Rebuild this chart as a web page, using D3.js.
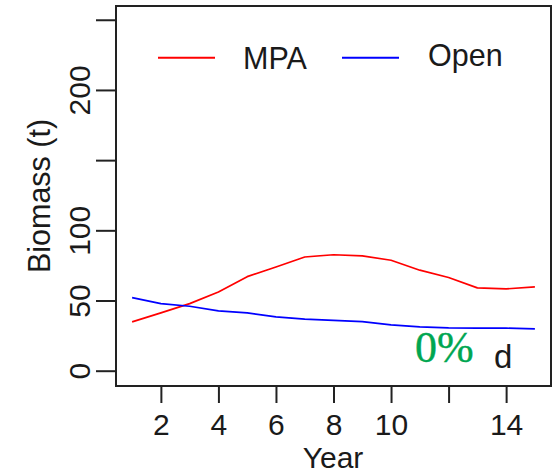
<!DOCTYPE html>
<html>
<head>
<meta charset="utf-8">
<script src="https://cdn.jsdelivr.net/npm/d3@7/dist/d3.min.js"></script>
<style>
  html, body { margin: 0; padding: 0; background: #fff; }
  svg { display: block; }
  text { font-family: "Liberation Sans", Arial, sans-serif; fill: #1a1a1a; }
</style>
</head>
<body>
<svg id="chart" width="557" height="474"></svg>
<script>
// Biomass trajectories, years 1..15
const years = d3.range(1, 16);
const mpaBiomass  = [34.8, 41.2, 47.8, 56.1, 67.0, 73.9, 81.0, 82.6, 81.8, 78.7, 71.6, 66.4, 59.0, 58.3, 59.7];
const openBiomass = [52.1, 47.8, 45.9, 42.6, 41.2, 38.3, 36.7, 35.8, 35.0, 32.6, 31.2, 30.5, 30.3, 30.3, 29.8];
const xTicks = [2, 4, 6, 8, 10, 12, 14];
const xTickLabels = ["2", "4", "6", "8", "10", "", "14"];
const yTicks = [0, 50, 100, 150, 200, 250];
const yTickLabels = ["0", "50", "100", "", "200", ""];
const seriesNames = ["MPA", "Open"];
const seriesColors = ["#ff0000", "#0000ff"];

const svg = d3.select("#chart");
const box = { left: 116, right: 551, top: 6, bottom: 386 };

const x = d3.scaleLinear().domain([0.44, 15.56]).range([box.left, box.right]);
const y = d3.scaleLinear().domain([-10.9, 259.8]).range([box.bottom, box.top]);

// frame
svg.append("rect")
  .attr("x", box.left).attr("y", box.top)
  .attr("width", box.right - box.left).attr("height", box.bottom - box.top)
  .attr("fill", "none").attr("stroke", "#222").attr("stroke-width", 2);

// x axis
const xAxis = svg.append("g")
  .attr("transform", `translate(0,${box.bottom})`)
  .call(d3.axisBottom(x).tickValues(xTicks).tickSize(17)
        .tickFormat((d, i) => xTickLabels[i]));
xAxis.select(".domain").remove();
xAxis.selectAll(".tick line").attr("stroke", "#222").attr("stroke-width", 2);
xAxis.selectAll(".tick text")
  .attr("y", 0).attr("dy", null)
  .attr("transform", "translate(0,49)")
  .style("font-family", "Liberation Sans, Arial, sans-serif")
  .style("font-size", "30px").attr("fill", "#1a1a1a");

// y axis
const yAxis = svg.append("g")
  .attr("transform", `translate(${box.left},0)`)
  .call(d3.axisLeft(y).tickValues(yTicks).tickSize(20)
        .tickFormat((d, i) => yTickLabels[i]));
yAxis.select(".domain").remove();
yAxis.selectAll(".tick line").attr("stroke", "#222").attr("stroke-width", 2);
yAxis.selectAll(".tick text")
  .attr("x", null).attr("dy", null)
  .attr("text-anchor", "middle")
  .attr("transform", "translate(-26,0) rotate(-90)")
  .style("font-family", "Liberation Sans, Arial, sans-serif")
  .style("font-size", "30px").attr("fill", "#1a1a1a");

// axis titles
svg.append("text")
  .attr("x", 333).attr("y", 468)
  .attr("text-anchor", "middle")
  .style("font-size", "30px")
  .text("Year");

svg.append("text")
  .attr("transform", "translate(50,196) rotate(-90)")
  .attr("text-anchor", "middle")
  .style("font-size", "30.5px")
  .text("Biomass (t)");

// series lines
const line = d3.line().x((d, i) => x(years[i])).y(d => y(d));
[mpaBiomass, openBiomass].forEach((vals, k) => {
  svg.append("path")
    .datum(vals)
    .attr("d", line)
    .attr("fill", "none")
    .attr("stroke", seriesColors[k])
    .attr("stroke-width", 1.7)
    .attr("stroke-linejoin", "round");
});

// legend
const legendItems = [
  { x1: 158, x2: 215, ly: 57.7, tx: 243, ty: 69 },
  { x1: 342, x2: 399, ly: 57.7, tx: 428, ty: 66 }
];
legendItems.forEach((it, k) => {
  svg.append("line")
    .attr("x1", it.x1).attr("x2", it.x2)
    .attr("y1", it.ly).attr("y2", it.ly)
    .attr("stroke", seriesColors[k]).attr("stroke-width", 2);
  svg.append("text")
    .attr("x", it.tx).attr("y", it.ty)
    .style("font-size", "30.5px")
    .text(seriesNames[k]);
});

// panel annotations
svg.append("text")
  .attr("x", 415).attr("y", 362)
  .style("font-family", "Liberation Serif, 'Times New Roman', serif")
  .style("font-size", "44px")
  .style("fill", "#00a651")
  .attr("stroke", "#00a651").attr("stroke-width", 0.4)
  .text("0%");

svg.append("text")
  .attr("x", 494).attr("y", 368)
  .style("font-size", "33px")
  .text("d");
</script>
</body>
</html>
